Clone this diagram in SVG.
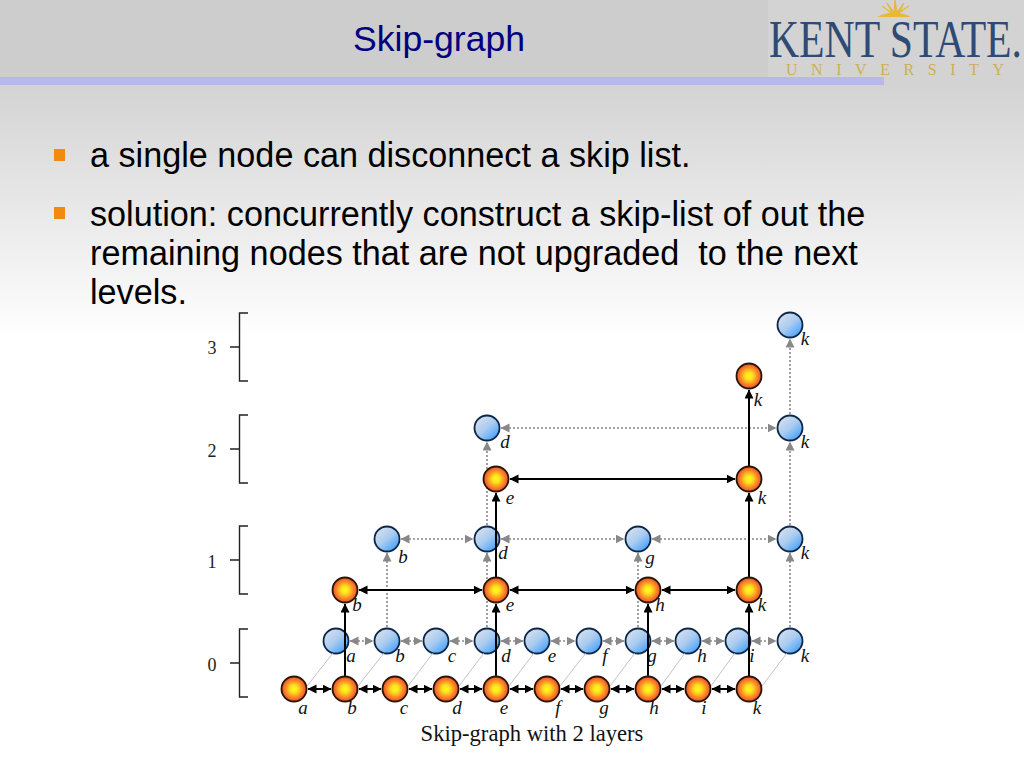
<svg xmlns="http://www.w3.org/2000/svg" width="1024" height="768" viewBox="0 0 1024 768">
<style>
.o{fill:url(#og);stroke:#2a1408;stroke-width:1.8}
.b{fill:url(#bg);stroke:#0c2748;stroke-width:1.8}
.l{font:italic 19px "Liberation Serif",serif;fill:#111;text-anchor:middle}
.n{font:18px "Liberation Serif",serif;fill:#222;text-anchor:middle}
.t{font:34.2px "Liberation Sans",Arial,sans-serif;fill:#000;white-space:pre}
.k{stroke:#000;stroke-width:2;fill:none;marker-end:url(#ka)}
.kk{stroke:#000;stroke-width:2;fill:none;marker-start:url(#ka);marker-end:url(#ka)}
.g{stroke:#888;stroke-width:1.6;stroke-dasharray:2 2;fill:none;marker-end:url(#ga)}
.gg{stroke:#888;stroke-width:1.6;stroke-dasharray:2 2;fill:none;marker-start:url(#ga);marker-end:url(#ga)}
.d{stroke:#b4b4b4;stroke-width:.8;fill:none}
.br{stroke:#222;stroke-width:1.4;fill:none}
</style>
<defs>
<linearGradient id="bgd" x1="0" y1="0" x2="0" y2="1"><stop offset="0" stop-color="#d3d3d3"/><stop offset="1" stop-color="#ffffff"/></linearGradient>
<radialGradient id="og" cx=".5" cy=".5" r=".5"><stop offset="0" stop-color="#ffff10"/><stop offset=".3" stop-color="#fde020"/><stop offset=".72" stop-color="#fa8028"/><stop offset="1" stop-color="#ea4f22"/></radialGradient>
<linearGradient id="bg" x1=".15" y1=".1" x2=".85" y2=".9"><stop offset="0" stop-color="#d5dfec"/><stop offset=".5" stop-color="#a9cbf0"/><stop offset="1" stop-color="#47a2fb"/></linearGradient>
<marker id="ka" markerUnits="userSpaceOnUse" markerWidth="11" markerHeight="11" refX="8.500" refY="4.500" orient="auto-start-reverse"><path d="M0 0L9 4.500L0 9Z" fill="#000"/></marker>
<marker id="ga" markerUnits="userSpaceOnUse" markerWidth="11" markerHeight="11" refX="8.500" refY="4.500" orient="auto-start-reverse"><path d="M0 0L9 4.500L0 9Z" fill="#888"/></marker>
</defs>
<rect width="1024" height="768" fill="#fff"/>
<rect y="85" width="1024" height="255" fill="url(#bgd)"/>
<rect width="1024" height="77" fill="#cdcdcd"/>
<rect x="768" width="256" height="85" fill="#d3d3d3"/>
<rect y="77" width="884" height="8" fill="#b9b9e9"/>

<g id="logo">
<path d="M877 17Q894 8 911 17Z" fill="#e8b83a"/>
<path d="M894 15L882 6L892 13L887 3L894 12L895 0L897 12L904 3L899 13L909 6Z" fill="#e8b83a" stroke="#e8b83a" stroke-width="1"/>
<text transform="translate(769 57) scale(1 1.3)" font-family="Liberation Serif,serif" font-size="40" textLength="253" lengthAdjust="spacingAndGlyphs" fill="#2f4a75">KENT STATE.</text>
<text x="786" y="75" font-family="Liberation Serif,serif" font-size="16" textLength="218" fill="#cfae55">UNIVERSITY</text>
</g>

<text x="353" y="51" font-family="Liberation Sans,Arial,sans-serif" font-size="35.600" fill="#000080">Skip-graph</text>
<g id="bullets">
<rect x="54" y="149" width="11" height="12" fill="#f28a10"/>
<rect x="54" y="207" width="11" height="12" fill="#f28a10"/>
<text class="t" x="90" y="167">a single node can disconnect a skip list.</text>
<text class="t" x="90" y="226">solution: concurrently construct a skip-list of out the</text>
<text class="t" x="90" y="265">remaining nodes that are not upgraded  to the next</text>
<text class="t" x="90" y="304">levels.</text>
</g>

<g id="levels">
<path class="br" d="M248 313H239.500V347H230M239.500 347V381H248"/>
<path class="br" d="M248 415H239.500V449H230M239.500 449V483H248"/>
<path class="br" d="M248 526H239.500V560H230M239.500 560V594H248"/>
<path class="br" d="M248 629H239.500V663H230M239.500 663V697H248"/>
<text class="n" x="212" y="354">3</text>
<text class="n" x="212" y="457">2</text>
<text class="n" x="212" y="568">1</text>
<text class="n" x="212" y="671">0</text>
</g>

<g id="blue-nodes">
<g id="b0a"><circle class="b" cx="336" cy="641" r="12.5"/><text class="l" x="351" y="662">a</text></g>
<g id="b0b"><circle class="b" cx="387" cy="641" r="12.5"/><text class="l" x="400" y="662">b</text></g>
<g id="b0c"><circle class="b" cx="436" cy="641" r="12.5"/><text class="l" x="452" y="662">c</text></g>
<g id="b0d"><circle class="b" cx="487" cy="641" r="12.5"/><text class="l" x="506" y="662">d</text></g>
<g id="b0e"><circle class="b" cx="537" cy="641" r="12.5"/><text class="l" x="552" y="662">e</text></g>
<g id="b0f"><circle class="b" cx="589" cy="641" r="12.5"/><text class="l" x="605" y="662">f</text></g>
<g id="b0g"><circle class="b" cx="638" cy="641" r="12.5"/><text class="l" x="652" y="662">g</text></g>
<g id="b0h"><circle class="b" cx="688" cy="641" r="12.5"/><text class="l" x="702" y="662">h</text></g>
<g id="b0i"><circle class="b" cx="738" cy="641" r="12.5"/><text class="l" x="752" y="662">i</text></g>
<g id="b0k"><circle class="b" cx="790" cy="641" r="12.5"/><text class="l" x="805" y="662">k</text></g>
<g id="b1b"><circle class="b" cx="387" cy="539" r="12.5"/><text class="l" x="403" y="563">b</text></g>
<g id="b1d"><circle class="b" cx="487" cy="539" r="12.5"/><text class="l" x="503" y="559">d</text></g>
<g id="b1g"><circle class="b" cx="638" cy="539" r="12.5"/><text class="l" x="650" y="564">g</text></g>
<g id="b1k"><circle class="b" cx="790" cy="539" r="12.5"/><text class="l" x="805" y="559">k</text></g>
<g id="b2d"><circle class="b" cx="487" cy="428" r="12.5"/><text class="l" x="505" y="448">d</text></g>
<g id="b2k"><circle class="b" cx="790" cy="428" r="12.5"/><text class="l" x="805" y="448">k</text></g>
<g id="b3k"><circle class="b" cx="790" cy="325" r="12.5"/><text class="l" x="805" y="345">k</text></g>
</g>

<g id="connectors">
<path class="d" d="M307 686L333 653M358 686L384 653M408 686L433 653M459 686L484 653M509 686L534 653M560 686L586 653M610 686L635 653M661 686L685 653M711 686L735 653M762 686L787 653"/>
<path class="gg" d="M350 641H373"/><path class="gg" d="M401 641H422"/><path class="gg" d="M450 641H473"/><path class="gg" d="M501 641H523"/><path class="gg" d="M551 641H575"/>
<path class="gg" d="M603 641H624"/><path class="gg" d="M652 641H674"/><path class="gg" d="M702 641H724"/><path class="gg" d="M752 641H776"/>
<path class="gg" d="M401 539H473"/><path class="gg" d="M501 539H624"/><path class="gg" d="M652 539H776"/>
<path class="gg" d="M501 428H776"/>
<path class="g" d="M387 627V553"/><path class="g" d="M487 627V553"/><path class="g" d="M487 525V442"/>
<path class="g" d="M638 627V553"/><path class="g" d="M790 627V553"/><path class="g" d="M790 525V442"/><path class="g" d="M790 414V339"/>
<path class="k" d="M345 676V604"/><path class="k" d="M496 676V604"/><path class="k" d="M496 577V493"/>
<path class="k" d="M648 676V604"/><path class="k" d="M749 676V604"/><path class="k" d="M749 577V493"/><path class="k" d="M749 466V390"/>
<path class="kk" d="M308 689H331"/><path class="kk" d="M359 689H381"/><path class="kk" d="M409 689H432"/><path class="kk" d="M460 689H482"/><path class="kk" d="M510 689H533"/>
<path class="kk" d="M561 689H583"/><path class="kk" d="M611 689H634"/><path class="kk" d="M662 689H684"/><path class="kk" d="M712 689H735"/>
<path class="kk" d="M359 590H482"/><path class="kk" d="M510 590H634"/><path class="kk" d="M662 590H735"/>
<path class="kk" d="M510 479H735"/>
</g>

<g id="orange-nodes">
<g id="o0a"><circle class="o" cx="294" cy="689" r="12.5"/><text class="l" x="303" y="714">a</text></g>
<g id="o0b"><circle class="o" cx="345" cy="689" r="12.5"/><text class="l" x="352" y="714">b</text></g>
<g id="o0c"><circle class="o" cx="395" cy="689" r="12.5"/><text class="l" x="404" y="714">c</text></g>
<g id="o0d"><circle class="o" cx="446" cy="689" r="12.5"/><text class="l" x="457" y="714">d</text></g>
<g id="o0e"><circle class="o" cx="496" cy="689" r="12.5"/><text class="l" x="504" y="714">e</text></g>
<g id="o0f"><circle class="o" cx="547" cy="689" r="12.5"/><text class="l" x="558" y="714">f</text></g>
<g id="o0g"><circle class="o" cx="597" cy="689" r="12.5"/><text class="l" x="604" y="714">g</text></g>
<g id="o0h"><circle class="o" cx="648" cy="689" r="12.5"/><text class="l" x="654" y="714">h</text></g>
<g id="o0i"><circle class="o" cx="698" cy="689" r="12.5"/><text class="l" x="704" y="714">i</text></g>
<g id="o0k"><circle class="o" cx="749" cy="689" r="12.5"/><text class="l" x="757" y="714">k</text></g>
<g id="o1b"><circle class="o" cx="345" cy="590" r="12.5"/><text class="l" x="357" y="611">b</text></g>
<g id="o1e"><circle class="o" cx="496" cy="590" r="12.5"/><text class="l" x="510" y="611">e</text></g>
<g id="o1h"><circle class="o" cx="648" cy="590" r="12.5"/><text class="l" x="660" y="611">h</text></g>
<g id="o1k"><circle class="o" cx="749" cy="590" r="12.5"/><text class="l" x="762" y="611">k</text></g>
<g id="o2e"><circle class="o" cx="496" cy="479" r="12.5"/><text class="l" x="510" y="504">e</text></g>
<g id="o2k"><circle class="o" cx="749" cy="479" r="12.5"/><text class="l" x="762" y="504">k</text></g>
<g id="o3k"><circle class="o" cx="749" cy="376" r="12.5"/><text class="l" x="758" y="406">k</text></g>
</g>

<text x="532" y="741" font-family="Liberation Serif,serif" font-size="22.600" fill="#111" text-anchor="middle">Skip-graph with 2 layers</text>
</svg>
